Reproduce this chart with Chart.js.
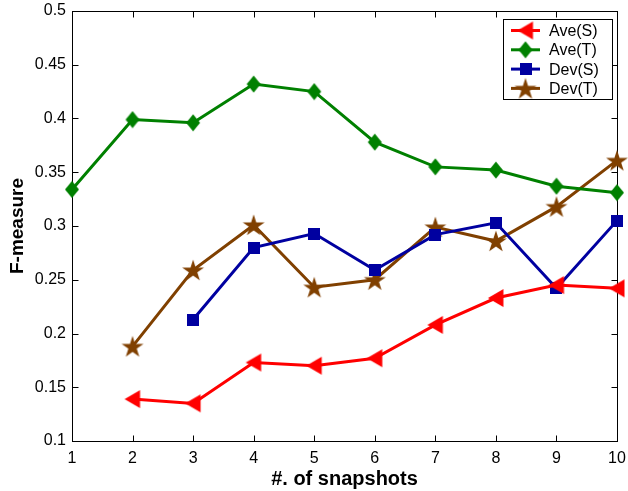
<!DOCTYPE html>
<html>
<head>
<meta charset="utf-8">
<script src="https://cdn.jsdelivr.net/npm/chart.js@4.4.1/dist/chart.umd.min.js"></script>
<style>
  html, body { margin: 0; padding: 0; background: #fff; }
  #wrap { width: 628px; height: 491px; }
</style>
</head>
<body>
<div id="wrap"><canvas id="myChart" width="628" height="491"></canvas></div>
<script>
// values
const snapshots = [1, 2, 3, 4, 5, 6, 7, 8, 9, 10];
const aveS = [null, 0.139, 0.135, 0.173, 0.170, 0.177, 0.208, 0.233, 0.245, 0.242];
const aveT = [0.334, 0.399, 0.396, 0.432, 0.425, 0.378, 0.355, 0.352, 0.337, 0.331];
const devS = [null, null, 0.213, 0.280, 0.293, 0.259, 0.292, 0.303, 0.242, 0.305];
const devT = [null, 0.188, 0.259, 0.301, 0.243, 0.250, 0.299, 0.286, 0.318, 0.361];
const seriesNames = ['Ave(S)', 'Ave(T)', 'Dev(S)', 'Dev(T)'];
const xTicks = [1, 2, 3, 4, 5, 6, 7, 8, 9, 10];
const yTicks = [0.1, 0.15, 0.2, 0.25, 0.3, 0.35, 0.4, 0.45, 0.5];
const yTickLabels = ['0.1', '0.15', '0.2', '0.25', '0.3', '0.35', '0.4', '0.45', '0.5'];

Chart.defaults.font.family = '"Liberation Sans", Arial, Helvetica, sans-serif';
Chart.defaults.color = '#000';

// marker images (matlab-like)
function makeMarker(w, h, color, drawPath) {
    const c = document.createElement('canvas');
    c.width = w; c.height = h;
    const g = c.getContext('2d');
    g.fillStyle = color;
    g.beginPath();
    drawPath(g, w / 2, h / 2);
    g.closePath();
    g.fill();
    return c;
}

const triLeft = makeMarker(18, 20, '#ff0000', (g, cx, cy) => {
    g.moveTo(cx - 8, cy);
    g.lineTo(cx + 7.5, cy - 9);
    g.lineTo(cx + 7.5, cy + 9);
});
const diamond = makeMarker(16, 18, '#008000', (g, cx, cy) => {
    g.moveTo(cx, cy - 8.5);
    g.lineTo(cx + 7, cy);
    g.lineTo(cx, cy + 8.5);
    g.lineTo(cx - 7, cy);
});
const square = makeMarker(12, 12, '#0000a0', (g, cx, cy) => {
    g.rect(0, 0, 12, 12);
});
const star = makeMarker(24, 24, '#804000', (g, cx, cy) => {
    const R = 11.5, r = R * 0.382;
    for (let i = 0; i < 10; i++) {
        const a = -Math.PI / 2 + i * Math.PI / 5;
        const rad = i % 2 === 0 ? R : r;
        const px = cx + rad * Math.cos(a), py = cy + 1 + rad * Math.sin(a);
        if (i === 0) g.moveTo(px, py); else g.lineTo(px, py);
    }
});

function toPoints(vals) {
    return snapshots.map((x, i) => ({ x: x, y: vals[i] }));
}

const colors = ['#ff0000', '#008000', '#0000a0', '#804000'];
const markers = [triLeft, diamond, square, star];
const seriesVals = [aveS, aveT, devS, devT];

const datasets = seriesNames.map((name, i) => ({
    label: name,
    data: toPoints(seriesVals[i]),
    borderColor: colors[i],
    backgroundColor: colors[i],
    borderWidth: 3,
    pointStyle: markers[i],
    pointRadius: 8,
    tension: 0,
    spanGaps: false,
    clip: false
}));

const framePlugin = {
    id: 'frame',
    beforeDatasetsDraw(chart) {
        const ctx = chart.ctx;
        const a = chart.chartArea;
        const xs = chart.scales.x, ys = chart.scales.y;
        const L = Math.round(a.left) + 0.5, R = Math.round(a.right) + 0.5;
        const T = Math.round(a.top) + 0.5, B = Math.round(a.bottom) + 0.5;
        ctx.save();
        ctx.strokeStyle = '#000';
        ctx.lineWidth = 1;
        ctx.strokeRect(L, T, R - L, B - T);
        ctx.beginPath();
        xTicks.forEach(v => {
            const px = Math.round(xs.getPixelForValue(v)) + 0.5;
            ctx.moveTo(px, B); ctx.lineTo(px, B - 6);
            ctx.moveTo(px, T); ctx.lineTo(px, T + 6);
        });
        yTicks.forEach(v => {
            const py = Math.round(ys.getPixelForValue(v)) + 0.5;
            ctx.moveTo(L, py); ctx.lineTo(L + 6, py);
            ctx.moveTo(R, py); ctx.lineTo(R - 6, py);
        });
        ctx.stroke();
        ctx.restore();
    }
};

const legendPlugin = {
    id: 'boxLegend',
    afterDraw(chart) {
        const ctx = chart.ctx;
        const bx = 503.5, by = 19.5, bw = 109, bh = 80;
        ctx.save();
        ctx.fillStyle = '#fff';
        ctx.fillRect(bx, by, bw, bh);
        ctx.strokeStyle = '#000';
        ctx.lineWidth = 1;
        ctx.strokeRect(bx, by, bw, bh);
        chart.data.datasets.forEach((ds, i) => {
            const y = 30.5 + i * 19.3;
            ctx.strokeStyle = ds.borderColor;
            ctx.lineWidth = 3;
            ctx.beginPath();
            ctx.moveTo(511, y); ctx.lineTo(540, y);
            ctx.stroke();
            const img = ds.pointStyle;
            ctx.drawImage(img, 525.5 - img.width / 2, y - img.height / 2);
            ctx.fillStyle = '#000';
            ctx.font = '16px "Liberation Sans", Arial, sans-serif';
            ctx.textBaseline = 'middle';
            ctx.textAlign = 'left';
            ctx.fillText(ds.label, 549, y + 1);
        });
        ctx.restore();
    }
};

const ctx = document.getElementById('myChart').getContext('2d');
const myChart = new Chart(ctx, {
    type: 'line',
    data: { datasets: datasets },
    options: {
        responsive: false,
        animation: false,
        layout: { padding: { top: 10, right: 9, left: 0, bottom: 0 } },
        plugins: {
            legend: { display: false },
            tooltip: { enabled: false },
            title: { display: false }
        },
        scales: {
            x: {
                type: 'linear',
                min: 1,
                max: 10,
                afterBuildTicks: s => { s.ticks = xTicks.map(v => ({ value: v })); },
                afterFit: s => {
                    s.height = 50;
                    s.paddingLeft = 0; s.paddingRight = 0;
                },
                grid: { display: false, drawTicks: false },
                border: { display: false },
                ticks: {
                    font: { size: 16 },
                    padding: 8,
                    maxRotation: 0,
                    autoSkip: false,
                    callback: v => String(v)
                },
                title: {
                    display: true,
                    text: '#. of snapshots',
                    font: { size: 20, weight: 'bold' },
                    padding: { top: 0, bottom: 0 }
                }
            },
            y: {
                type: 'linear',
                min: 0.1,
                max: 0.5,
                afterBuildTicks: s => { s.ticks = yTicks.map(v => ({ value: v })); },
                afterFit: s => {
                    s.width = 72;
                    s.paddingTop = 0; s.paddingBottom = 0;
                },
                grid: { display: false, drawTicks: false },
                border: { display: false },
                ticks: {
                    font: { size: 16 },
                    padding: 6,
                    autoSkip: false,
                    callback: (v, i) => yTickLabels[i]
                },
                title: {
                    display: true,
                    text: 'F-measure',
                    font: { size: 19, weight: 'bold' },
                    padding: { top: 6, bottom: 0 }
                }
            }
        }
    },
    plugins: [framePlugin, legendPlugin]
});
</script>
</body>
</html>
